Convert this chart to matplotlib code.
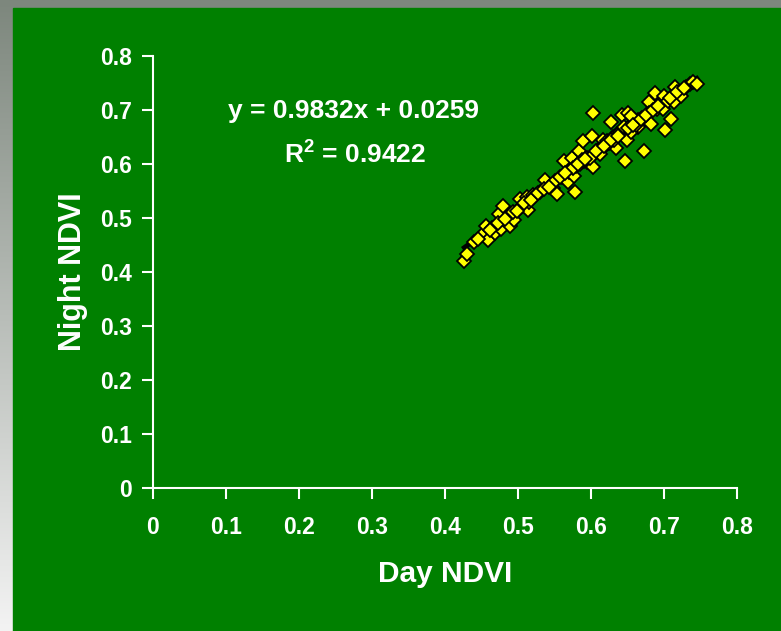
import matplotlib.pyplot as plt
import numpy as np
from matplotlib.patches import Rectangle

plt.rcParams['font.family'] = ['Liberation Sans', 'DejaVu Sans']
plt.rcParams['font.weight'] = 'bold'
plt.rcParams['mathtext.fontset'] = 'custom'
plt.rcParams['mathtext.rm'] = 'Liberation Sans:bold'
plt.rcParams['mathtext.bf'] = 'Liberation Sans:bold'

# Day NDVI vs Night NDVI
day_ndvi = [0.4265, 0.430, 0.440, 0.450, 0.456, 0.459, 0.465, 0.469, 0.474, 0.477,
            0.480, 0.485, 0.489, 0.490, 0.495, 0.500, 0.503, 0.505, 0.510, 0.512,
            0.513, 0.515, 0.521, 0.525, 0.530, 0.537, 0.545, 0.548, 0.550, 0.553,
            0.560, 0.563, 0.568, 0.570, 0.574, 0.576, 0.578, 0.580, 0.584, 0.589,
            0.590, 0.594, 0.595, 0.601, 0.603, 0.603, 0.605, 0.610, 0.615, 0.617,
            0.620, 0.622, 0.625, 0.628, 0.630, 0.634, 0.635, 0.640, 0.642, 0.645,
            0.647, 0.649, 0.651, 0.655, 0.660, 0.664, 0.665, 0.670, 0.672, 0.679,
            0.680, 0.682, 0.687, 0.690, 0.695, 0.699, 0.700, 0.701, 0.705, 0.710,
            0.714, 0.715, 0.720, 0.723, 0.730, 0.735, 0.740, 0.745, 0.575, 0.585,
            0.615, 0.625, 0.632, 0.645, 0.655, 0.612, 0.598, 0.588, 0.655, 0.662,
            0.445, 0.462, 0.472, 0.482, 0.493, 0.498, 0.508, 0.518, 0.528, 0.535,
            0.542, 0.557, 0.565, 0.582, 0.592, 0.607, 0.618, 0.627, 0.637, 0.650,
            0.658, 0.668, 0.675, 0.685, 0.692, 0.708, 0.718, 0.728]
night_ndvi = [0.421, 0.433, 0.455, 0.468, 0.485, 0.459, 0.482, 0.472, 0.507, 0.480,
              0.522, 0.500, 0.486, 0.508, 0.496, 0.515, 0.536, 0.522, 0.527, 0.539,
              0.514, 0.530, 0.543, 0.542, 0.548, 0.570, 0.562, 0.555, 0.568, 0.544,
              0.575, 0.606, 0.567, 0.585, 0.611, 0.578, 0.548, 0.596, 0.624, 0.643,
              0.605, 0.604, 0.612, 0.651, 0.595, 0.695, 0.620, 0.625, 0.632, 0.644,
              0.637, 0.642, 0.641, 0.677, 0.650, 0.630, 0.655, 0.660, 0.691, 0.652,
              0.606, 0.644, 0.695, 0.668, 0.676, 0.669, 0.681, 0.685, 0.624, 0.714,
              0.695, 0.674, 0.732, 0.702, 0.711, 0.701, 0.726, 0.663, 0.716, 0.683,
              0.714, 0.743, 0.733, 0.725, 0.742, 0.748, 0.751, 0.748, 0.592, 0.600,
              0.628, 0.638, 0.645, 0.668, 0.660, 0.618, 0.611, 0.607, 0.688, 0.672,
              0.462, 0.478, 0.490, 0.498, 0.511, 0.513, 0.527, 0.534, 0.546, 0.553,
              0.558, 0.575, 0.583, 0.600, 0.609, 0.624, 0.634, 0.645, 0.652, 0.667,
              0.673, 0.683, 0.690, 0.700, 0.707, 0.722, 0.733, 0.741]
slope, intercept = 0.9832, 0.0259
r_squared = 0.9422
x_ticks = [0, 0.1, 0.2, 0.3, 0.4, 0.5, 0.6, 0.7, 0.8]
y_ticks = [0, 0.1, 0.2, 0.3, 0.4, 0.5, 0.6, 0.7, 0.8]

fig = plt.figure(figsize=(7.81, 6.31), dpi=100)

# gray gradient behind, green panel on top
bg = fig.add_axes([0, 0, 1, 1], zorder=-2)
grad = np.linspace(0, 1, 256).reshape(-1, 1)
top = np.array([125, 135, 125]) / 255
bot = np.array([243, 243, 243]) / 255
img = top[None, None, :] * (1 - grad[:, :, None]) + bot[None, None, :] * grad[:, :, None]
bg.imshow(img, aspect='auto', extent=[0, 1, 0, 1])
bg.add_patch(Rectangle((13 / 781, 0), 1, 1 - 8 / 631, color='#008000'))
bg.set_xlim(0, 1)
bg.set_ylim(0, 1)
bg.axis('off')

ax = fig.add_axes([0.1959, 0.2266, 0.7478, 0.6847])
ax.patch.set_alpha(0)
xs = np.array([min(day_ndvi), max(day_ndvi)])
ax.plot(xs, slope * xs + intercept, color='black', lw=3.5, zorder=2)
ax.plot(day_ndvi, night_ndvi, 'D', ms=7, mfc='#ffff00', mec='black', mew=1.3,
        zorder=3, clip_on=False)

ax.set_xlim(0, 0.8)
ax.set_ylim(0, 0.8)
ax.set_xticks(x_ticks)
ax.set_yticks(y_ticks)
ax.set_xticklabels(['0' if t == 0 else f'{t:g}' for t in x_ticks])
ax.set_yticklabels(['0' if t == 0 else f'{t:g}' for t in y_ticks])
for s in ['top', 'right']:
    ax.spines[s].set_visible(False)
for s in ['left', 'bottom']:
    ax.spines[s].set_color('white')
    ax.spines[s].set_linewidth(1.5)
ax.tick_params(colors='white', direction='out', length=8, width=1.5, labelsize=16.5)
ax.tick_params(axis='x', pad=12)
ax.tick_params(axis='y', pad=7)
for lab in ax.get_xticklabels() + ax.get_yticklabels():
    lab.set_fontweight('bold')

ax.set_xlabel('Day NDVI', color='white', fontsize=21.5, fontweight='bold', labelpad=15)
ax.set_ylabel('Night NDVI', color='white', fontsize=22, fontweight='bold', labelpad=9)

ax.text(0.2751, 0.698, f'y = {slope}x + {intercept}', color='white', fontsize=19,
        fontweight='bold', ha='center', va='center')
ax.text(0.2765, 0.620, f'R$^2$ = {r_squared}', color='white', fontsize=19,
        fontweight='bold', ha='center', va='center')

fig.savefig('out.png', dpi=100)
